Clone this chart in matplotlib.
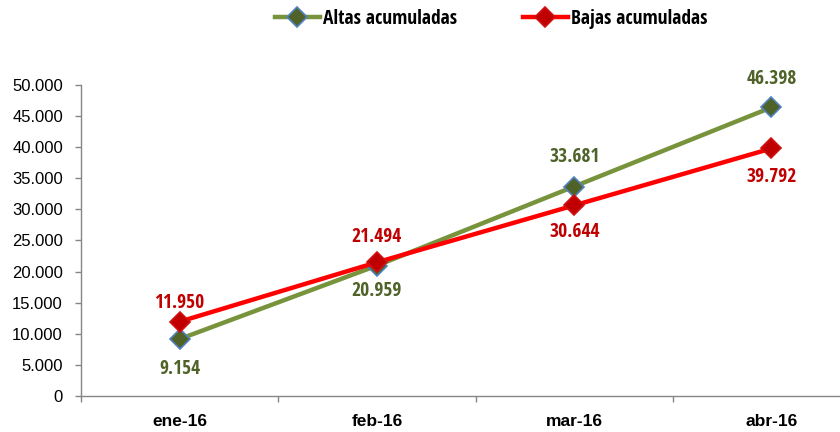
import matplotlib
matplotlib.use("Agg")
import matplotlib.pyplot as plt
from matplotlib.ticker import FuncFormatter, FixedLocator

categories = ["ene-16", "feb-16", "mar-16", "abr-16"]
altas = [9154, 20959, 33681, 46398]
bajas = [11950, 21494, 30644, 39792]

# label offsets in pixels (style)
altas_off = [-30, -25, 30, 28]
bajas_off = [19, 25, -27, -29]

narrow = ["Open Sans Condensed", "Liberation Sans"]
reg = "Liberation Sans"

def fmt(v):
    return f"{int(v):,}".replace(",", ".")

fig = plt.figure(figsize=(8.4, 4.32), dpi=100)
W, H = 840, 432
ax = fig.add_axes([81 / W, 1 - 396 / H, (870 - 81) / W, (396 - 85) / H])

x = list(range(len(categories)))
c_alt_line, c_alt_mk, c_alt_txt = "#77933C", "#4F6228", "#4F6228"
c_baj_line, c_baj_mk, c_baj_txt = "#FF0000", "#C00000", "#C00000"

ax.plot(x, altas, color=c_alt_line, lw=3.2, marker="D", ms=10.5,
        mfc=c_alt_mk, mec="#4F81BD", mew=1.2, label="Altas acumuladas", zorder=3)
ax.plot(x, bajas, color=c_baj_line, lw=3.2, marker="D", ms=10.5,
        mfc=c_baj_mk, mec="#D01010", mew=1.2, label="Bajas acumuladas", zorder=4)

for xi, v, d in zip(x, altas, altas_off):
    ax.annotate(fmt(v), (xi, v), xytext=(0, d), textcoords="offset pixels",
                ha="center", va="center", color=c_alt_txt, fontsize=14,
                fontweight="bold", family=narrow)
for xi, v, d in zip(x, bajas, bajas_off):
    ax.annotate(fmt(v), (xi, v), xytext=(0, d), textcoords="offset pixels",
                ha="center", va="center", color=c_baj_txt, fontsize=14,
                fontweight="bold", family=narrow)

ax.set_xlim(-0.5, len(categories) - 0.5)
ax.set_ylim(0, 50000)
ax.yaxis.set_major_locator(FixedLocator(range(0, 50001, 5000)))
ax.yaxis.set_major_formatter(FuncFormatter(lambda v, p: fmt(v)))
ax.set_xticks(x)
ax.set_xticklabels(categories, fontsize=12.5, fontweight="bold", family=reg)
ax.xaxis.set_minor_locator(FixedLocator([i - 0.5 for i in range(len(categories) + 1)]))
ax.tick_params(axis="x", which="major", length=0, pad=13)
ax.tick_params(axis="x", which="minor", length=4, color="#868686", width=1)
ax.tick_params(axis="y", length=4, color="#868686", width=1, labelsize=12, pad=9)
for lab in ax.get_yticklabels():
    lab.set_family(reg)
for s in ["top", "right"]:
    ax.spines[s].set_visible(False)
for s in ["left", "bottom"]:
    ax.spines[s].set_color("#868686")
    ax.spines[s].set_linewidth(1)

leg = fig.legend(loc="center", bbox_to_anchor=(491 / W, 1 - 19 / H), ncol=2,
                 frameon=False, prop={"family": narrow, "weight": "bold", "size": 14},
                 handlelength=2.3, handletextpad=0.15, columnspacing=3.4)

fig.savefig("out.png", dpi=100)
